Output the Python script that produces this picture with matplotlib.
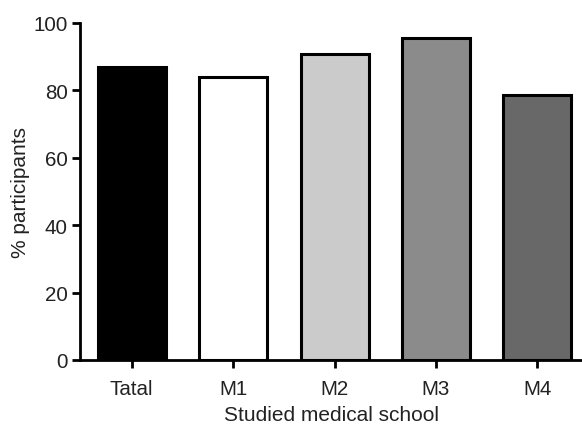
import numpy as np
import matplotlib.pyplot as plt

# data
schools = ['Tatal', 'M1', 'M2', 'M3', 'M4']
percent = [86.9, 84.1, 90.8, 95.5, 78.6]
fills = ['#000000', '#ffffff', '#cbcbcb', '#8b8b8b', '#686868']

plt.rcParams['font.family'] = ['Liberation Sans', 'DejaVu Sans']

fig = plt.figure(figsize=(5.82, 4.27), dpi=100)
ax = fig.add_axes([0.1375, 0.1546, 0.8625, 0.7892])

x = np.arange(len(schools))
ax.bar(x, percent, width=0.67, color=fills, edgecolor='k', linewidth=2.2)

ax.set_xlim(-0.51, 4.44)
ax.set_ylim(0, 100)
ax.set_yticks([0, 20, 40, 60, 80, 100])
ax.set_xticks(x)
ax.set_xticklabels(schools)

ax.spines['top'].set_visible(False)
ax.spines['right'].set_visible(False)
ax.spines['left'].set_linewidth(2.0)
ax.spines['bottom'].set_linewidth(2.0)
ax.tick_params(axis='both', direction='out', length=6, width=2.0,
               labelsize=14.8, colors='k', labelcolor='#222222', pad=3)
ax.tick_params(axis='x', pad=8)

ax.set_xlabel('Studied medical school', fontsize=15, color='#222222', labelpad=5)
ax.set_ylabel('% participants', fontsize=15, color='#222222', labelpad=2)

fig.savefig('out.png', dpi=100)
